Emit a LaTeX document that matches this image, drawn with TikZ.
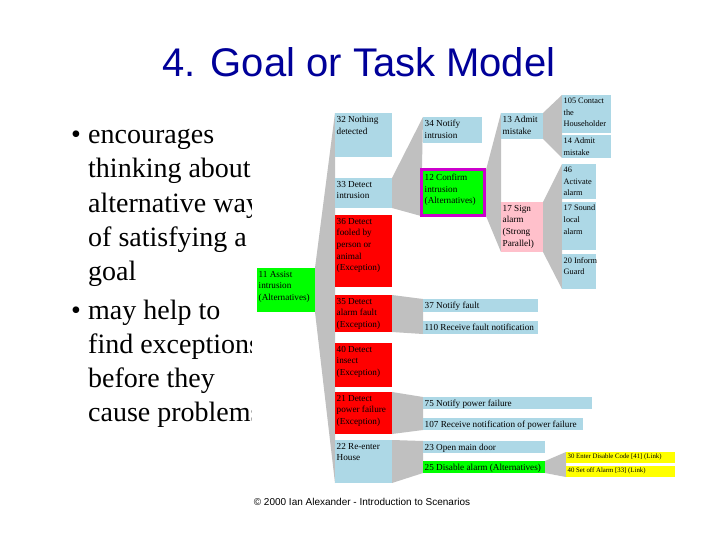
\documentclass[tikz,border=0pt]{standalone}
\usepackage{fontspec}
\setmainfont{Liberation Serif}
\newfontfamily\arialf{Liberation Sans}
\definecolor{titleblue}{RGB}{0,0,153}
\definecolor{lb}{RGB}{173,216,230}
\definecolor{gr}{RGB}{0,255,0}
\definecolor{rd}{RGB}{255,0,0}
\definecolor{pk}{RGB}{255,192,203}
\definecolor{yl}{RGB}{255,255,0}
\definecolor{mg}{RGB}{204,0,204}
\definecolor{fangray}{RGB}{192,192,192}
\newcommand\mkbox[7][]{%
  \node[gbox,fill=#6,minimum width=#4pt,minimum height=#5pt,#1] (#2) at (#3) {};
  \node[lbl] (#2t) at (#2.north west) {#7};}
\begin{document}
\begin{tikzpicture}[x=1pt,y=-1pt,
  gbox/.style={rectangle,inner sep=0pt,outer sep=0pt,anchor=north west},
  lbl/.style={font=\fontsize{9.2}{11.6}\selectfont,text=black,align=left,inner xsep=1.5pt,inner ysep=3pt,anchor=north west},
  lblsmall/.style={font=\fontsize{8.3}{11.6}\selectfont},
  lbltiny/.style={font=\fontsize{6.8}{8}\selectfont,inner ysep=2pt},
  fan/.style={fill=fangray},
  btxt/.style={font=\fontsize{28}{34}\selectfont,anchor=base west,inner sep=0pt}]
\useasboundingbox (0,0) rectangle (720,540);
\fill[white] (0,0) rectangle (720,540);
% title
\node[anchor=base,font=\arialf\fontsize{40}{48}\selectfont,text=titleblue,inner sep=0pt] (title) at (359,77) {4. Goal or Task Model};
% bullets
\node[btxt] (bu1) at (71,144) {•};
\node[btxt] (l1) at (88,144) {encourages};
\node[btxt] (l2) at (88,178) {thinking about};
\node[btxt] (l3) at (88,212) {alternative ways};
\node[btxt] (l4) at (88,246) {of satisfying a};
\node[btxt] (l5) at (88,280) {goal};
\node[btxt] (bu2) at (71,319) {•};
\node[btxt] (l6) at (88,319) {may help to};
\node[btxt] (l7) at (88,353) {find exceptions};
\node[btxt] (l8) at (88,387) {before they};
\node[btxt] (l9) at (88,421) {cause problems};
% diagram background
\fill[white] (252,90) rectangle (684,488);
% footer
\node[anchor=base,font=\arialf\fontsize{10}{12}\selectfont,inner sep=0pt] (foot) at (362,505) {© 2000 Ian Alexander - Introduction to Scenarios};
% corner coordinates of the boxes (fans are drawn beneath the boxes)
\coordinate (rootNE) at (315,268); \coordinate (rootSE) at (315,312);
\coordinate (c1top) at (335,113);  \coordinate (c1bot) at (335,483);
\coordinate (n33NE) at (392,178);  \coordinate (n33SE) at (392,208);
\coordinate (n34NW) at (423,117);  \coordinate (n12SW) at (421,216);
\coordinate (n35NE) at (392,295);  \coordinate (n35SE) at (392,332);
\coordinate (n37NW) at (423,299);  \coordinate (n110SW) at (423,334);
\coordinate (n21NE) at (392,392);  \coordinate (n21SE) at (392,434);
\coordinate (n75NW) at (423,397);  \coordinate (n107SW) at (423,430);
\coordinate (n22NE) at (392,440);  \coordinate (n22SE) at (392,483);
\coordinate (n23NW) at (423,441);  \coordinate (n25SW) at (423,473);
\coordinate (n12NE) at (486,170);  \coordinate (n12SE) at (486,216);
\coordinate (n13NW) at (501,113);  \coordinate (n17SW) at (501,252);
\coordinate (n13NE) at (543,113);  \coordinate (n13SE) at (543,139);
\coordinate (n105NW) at (562,95);  \coordinate (n14SW) at (562,158);
\coordinate (n17NE) at (543,202);  \coordinate (n17SE) at (543,252);
\coordinate (n46NW) at (562,164);  \coordinate (n20SW) at (562,289);
\coordinate (n25NE) at (545,461);  \coordinate (n25SE) at (545,473);
\coordinate (n30NW) at (566,452);  \coordinate (n41SW) at (566,477);
% fans
\fill[fan] (rootNE) -- (c1top) -- (c1bot) -- (rootSE) -- cycle;
\fill[fan] (n33NE) -- (n34NW) -- (n12SW) -- (n33SE) -- cycle;
\fill[fan] (n35NE) -- (n37NW) -- (n110SW) -- (n35SE) -- cycle;
\fill[fan] (n21NE) -- (n75NW) -- (n107SW) -- (n21SE) -- cycle;
\fill[fan] (n22NE) -- (n23NW) -- (n25SW) -- (n22SE) -- cycle;
\fill[fan] (n12NE) -- (n13NW) -- (n17SW) -- (n12SE) -- cycle;
\fill[fan] (n13NE) -- (n105NW) -- (n14SW) -- (n13SE) -- cycle;
\fill[fan] (n17NE) -- (n46NW) -- (n20SW) -- (n17SE) -- cycle;
\fill[fan] (n25NE) -- (n30NW) -- (n41SW) -- (n25SE) -- cycle;
% boxes
\mkbox{root}{257,268}{58}{44}{gr}{11 Assist\\intrusion\\(Alternatives)}
\mkbox{n32}{335,113}{57}{44}{lb}{32 Nothing\\detected}
\mkbox{n33}{335,178}{57}{30}{lb}{33 Detect\\intrusion}
\mkbox{n36}{335,215}{57}{72}{rd}{36 Detect\\fooled by\\person or\\animal\\(Exception)}
\mkbox{n35}{335,295}{57}{37}{rd}{35 Detect\\alarm fault\\(Exception)}
\mkbox{n40}{335,343}{57}{44}{rd}{40 Detect\\insect\\(Exception)}
\mkbox{n21}{335,392}{57}{42}{rd}{21 Detect\\power failure\\(Exception)}
\mkbox{n22}{335,440}{57}{43}{lb}{22 Re-enter\\House}
\mkbox{n34}{423,117}{59}{26}{lb}{34 Notify\\intrusion}
\node[gbox,fill=gr,draw=mg,line width=3pt,minimum width=63pt,minimum height=46pt] (n12) at (421,170) {};
\node[lbl,inner xsep=3.5pt,inner ysep=4pt] (n12t) at (n12.north west) {12 Confirm\\intrusion\\(Alternatives)};
\mkbox{n37}{423,299}{115}{13}{lb}{37 Notify fault}
\mkbox{n110}{423,321}{115}{13}{lb}{110 Receive fault notification}
\mkbox{n75}{423,397}{169}{12}{lb}{75 Notify power failure}
\mkbox{n107}{423,418}{160}{12}{lb}{107 Receive notification of power failure}
\mkbox{n23}{423,441}{122}{12}{lb}{23 Open main door}
\mkbox{n25}{423,461}{122}{12}{gr}{25 Disable alarm (Alternatives)}
\mkbox{n13}{501,113}{42}{26}{lb}{13 Admit\\mistake}
\mkbox{n17}{501,202}{42}{50}{pk}{17 Sign\\alarm\\(Strong\\Parallel)}
\tikzset{lbl/.append style={lblsmall}}
\mkbox{n105}{562,95}{49}{38}{lb}{105 Contact\\the\\Householder}
\mkbox{n14}{562,135}{49}{23}{lb}{14 Admit\\mistake}
\mkbox{n46}{562,164}{34}{35}{lb}{46\\Activate\\alarm}
\mkbox{n19}{562,202}{34}{48}{lb}{17 Sound\\local\\alarm}
\mkbox{n20}{562,254}{34}{35}{lb}{20 Inform\\Guard}
\tikzset{lbl/.append style={lbltiny}}
\mkbox{n30}{566,452}{109}{11}{yl}{30 Enter Disable Code [41] (Link)}
\mkbox{n41}{566,466}{109}{11}{yl}{40 Set off Alarm [33] (Link)}
\end{tikzpicture}
\end{document}
